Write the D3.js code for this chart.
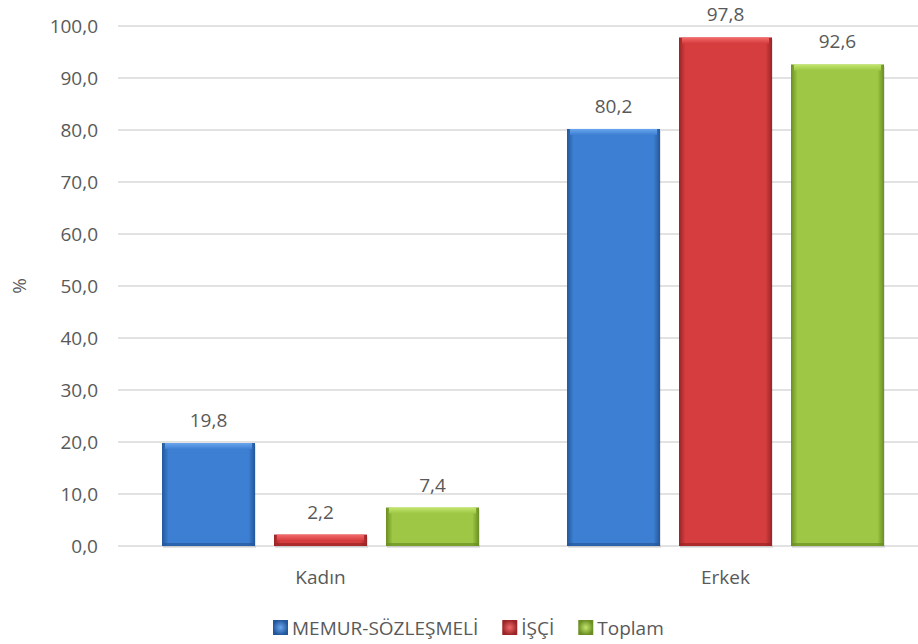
<!DOCTYPE html>
<html>
<head>
<meta charset="utf-8">
<script src="https://cdnjs.cloudflare.com/ajax/libs/d3/7.8.5/d3.min.js"></script>
<style>
  body { margin: 0; background: #fff; }
  text { font-family: "Open Sans", sans-serif; fill: #595959; }
</style>
</head>
<body>
<svg id="drawing_region"></svg>
<script>
const categories = ["Kadın", "Erkek"];
const seriesNames = ["MEMUR-SÖZLEŞMELİ", "İŞÇİ", "Toplam"];
const memur = [19.8, 80.2];
const isci = [2.2, 97.8];
const toplam = [7.4, 92.6];
const yTicks = [0, 10, 20, 30, 40, 50, 60, 70, 80, 90, 100];

const colors = [
  { base: "#3d7fd2", light: "#6aa6ee", dark: "#23579c" },
  { base: "#d63d3f", light: "#f26a6a", dark: "#9a2426" },
  { base: "#9dc744", light: "#c4e66e", dark: "#6a8e22" }
];

const width = 918, height = 644;
const margin = { top: 26, right: -10, bottom: 98, left: 118 };
const fontSize = '19px';

const svg = d3.select('#drawing_region')
  .attr('width', width)
  .attr('height', height);

const defs = svg.append('defs');
colors.forEach((c, i) => {
  const g = defs.append('linearGradient').attr('id', 'grad' + i)
    .attr('x1', 0).attr('x2', 1).attr('y1', 0).attr('y2', 0);
  g.append('stop').attr('offset', '0%').attr('stop-color', c.dark);
  g.append('stop').attr('offset', '7%').attr('stop-color', c.base);
  g.append('stop').attr('offset', '93%').attr('stop-color', c.base);
  g.append('stop').attr('offset', '100%').attr('stop-color', c.dark);
  const v = defs.append('linearGradient').attr('id', 'top' + i)
    .attr('x1', 0).attr('x2', 0).attr('y1', 0).attr('y2', 1);
  v.append('stop').attr('offset', '0%').attr('stop-color', c.light);
  v.append('stop').attr('offset', '100%').attr('stop-color', c.base);
  const r = defs.append('radialGradient').attr('id', 'leg' + i);
  r.append('stop').attr('offset', '0%').attr('stop-color', c.light);
  r.append('stop').attr('offset', '100%').attr('stop-color', c.dark);
});

const data = categories.map((c, i) => ({
  cat: c,
  values: [memur[i], isci[i], toplam[i]]
}));

const x0 = d3.scaleBand()
  .domain(categories)
  .range([margin.left, width - margin.right]);

const x1 = d3.scaleBand()
  .domain(d3.range(seriesNames.length))
  .range([0, x0.bandwidth()])
  .paddingInner(19 / 112)
  .paddingOuter(0.393);

const y = d3.scaleLinear()
  .domain([0, 100])
  .range([height - margin.bottom, margin.top]);

// grid
svg.append('g').selectAll('line')
  .data(yTicks)
  .enter()
  .append('line')
  .attr('x1', margin.left)
  .attr('x2', width)
  .attr('y1', d => y(d))
  .attr('y2', d => y(d))
  .attr('stroke', '#d9d9d9')
  .attr('stroke-width', 1.5);

// y axis labels
const yaxis = d3.axisLeft(y)
  .tickValues(yTicks)
  .tickSize(0)
  .tickPadding(20)
  .tickFormat(d => d3.format('.1f')(d).replace('.', ','));
const yg = svg.append('g')
  .attr('transform', `translate(${margin.left}, 0)`)
  .call(yaxis);
yg.select('.domain').remove();
yg.selectAll('text')
  .style('font-size', fontSize)
  .style('font-family', '"Open Sans", sans-serif')
  .attr('fill', '#595959');

svg.append('text')
  .attr('transform', `translate(26, ${y(50)}) rotate(-90)`)
  .attr('text-anchor', 'middle')
  .style('font-size', fontSize)
  .text('%');

// bars
const groups = svg.append('g').selectAll('g')
  .data(data)
  .enter()
  .append('g')
  .attr('transform', d => `translate(${x0(d.cat)}, 0)`);

const bars = groups.selectAll('g')
  .data(d => d.values.map((v, i) => ({ v: v, i: i })))
  .enter()
  .append('g');

bars.append('rect')
  .attr('x', d => x1(d.i) + 1)
  .attr('y', d => y(d.v) + 2)
  .attr('width', x1.bandwidth())
  .attr('height', d => y(0) - y(d.v))
  .attr('fill', '#000')
  .attr('opacity', 0.1);

bars.append('rect')
  .attr('x', d => x1(d.i))
  .attr('y', d => y(d.v))
  .attr('width', x1.bandwidth())
  .attr('height', d => y(0) - y(d.v))
  .attr('fill', d => `url(#grad${d.i})`);

bars.append('rect')
  .attr('x', d => x1(d.i) + 3)
  .attr('y', d => y(d.v))
  .attr('width', x1.bandwidth() - 6)
  .attr('height', d => Math.min(6, y(0) - y(d.v)))
  .attr('fill', d => `url(#top${d.i})`);

bars.append('rect')
  .attr('x', d => x1(d.i))
  .attr('y', d => y(0) - Math.min(3, y(0) - y(d.v)))
  .attr('width', x1.bandwidth())
  .attr('height', d => Math.min(3, y(0) - y(d.v)))
  .attr('fill', d => colors[d.i].dark)
  .attr('opacity', 0.7);

bars.append('text')
  .attr('x', d => x1(d.i) + x1.bandwidth() / 2)
  .attr('y', d => y(d.v) - 16)
  .attr('text-anchor', 'middle')
  .style('font-size', fontSize)
  .text(d => d3.format('.1f')(d.v).replace('.', ','));

// category labels
svg.append('g').selectAll('text')
  .data(categories)
  .enter()
  .append('text')
  .attr('x', d => x0(d) + x0.bandwidth() / 2)
  .attr('y', y(0) + 38)
  .attr('text-anchor', 'middle')
  .style('font-size', fontSize)
  .text(d => d);

// legend
const legend = svg.append('g');
let lx = 273;
seriesNames.forEach((name, i) => {
  const item = legend.append('g').attr('transform', `translate(${lx}, 620)`);
  item.append('rect')
    .attr('width', 15).attr('height', 15)
    .attr('fill', `url(#leg${i})`);
  const t = item.append('text')
    .attr('x', 19)
    .attr('y', 15)
    .style('font-size', fontSize)
    .text(name);
  lx += 19 + t.node().getComputedTextLength() + 24;
});
</script>
</body>
</html>
